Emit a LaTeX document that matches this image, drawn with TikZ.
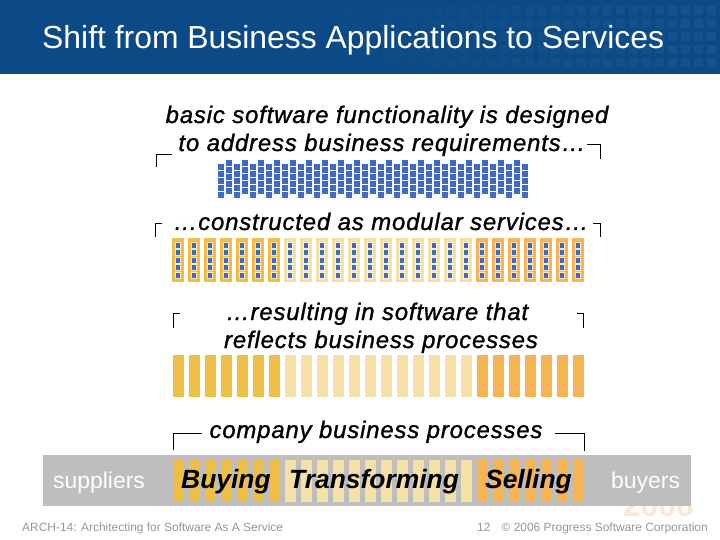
\documentclass[tikz,border=0pt]{standalone}
\usepackage{fontspec}
\setmainfont{Liberation Sans}
\newfontfamily\lblfont[LetterSpace=3.5,FakeBold=1.2]{Liberation Sans}
\usetikzlibrary{positioning}
\definecolor{titleblue}{RGB}{11,74,135}
\definecolor{patblue}{RGB}{45,100,155}
\definecolor{sqblue}{RGB}{59,107,196}
\definecolor{bargold}{RGB}{238,190,70}
\definecolor{barlight}{RGB}{245,224,165}
\definecolor{barorange}{RGB}{247,180,85}
\definecolor{bandgrey}{RGB}{190,190,190}
\definecolor{footgrey}{RGB}{150,150,150}
\definecolor{logopeach}{RGB}{249,232,212}
\tikzset{
  brk/.style={draw=black,line width=0.8pt},
  lbl/.style={font=\fontsize{24}{28}\lblfont\itshape,anchor=base,inner sep=0pt},
  stage/.style={font=\fontsize{26.5}{30}\selectfont\bfseries\itshape,anchor=base west,inner sep=0pt},
  party/.style={font=\fontsize{23}{27}\selectfont,text=white,anchor=base west,inner sep=0pt},
  foot/.style={font=\fontsize{12}{14}\selectfont,text=footgrey,inner sep=0pt}
}
\newcommand{\pickbar}[1]{\ifnum#1<7 \def\bc{bargold}\else\ifnum#1<19 \def\bc{barlight}\else\def\bc{barorange}\fi\fi}
\begin{document}
\begin{tikzpicture}[x=1bp,y=-1bp]
\useasboundingbox (0,0) rectangle (720,540);
% title bar
\fill[titleblue] (0,0) rectangle (720,74);
\foreach \c [evaluate=\c as \op using 0.04+\c*0.01] in {0,...,29}
  \foreach \r in {0,...,4}
    \fill[patblue,opacity=\op] (330+13*\c,6+13*\r) rectangle ++(9,9);
\node[anchor=base west,text=white,inner sep=0pt,font=\fontsize{32}{36}\selectfont] (title) at (42,49) {Shift from Business Applications to Services};

% requirements
\node[lbl] (req1) at (387,123) {basic software functionality is designed};
\node[lbl] (req2) at (382,151) {to address business requirements…};
\draw[brk] (156,167) -- (156,154) -- (172,154);
\draw[brk] (587,144) -- (600,144) -- (600,159);
\foreach \c in {0,...,38}{
  \pgfmathsetmacro\ytop{mod(\c,2)==0 ? 164 : 160.5}
  \foreach \r in {0,...,4}
    \fill[sqblue] (218+8*\c,\ytop+7*\r) rectangle ++(6,6);
}

% services
\node[lbl] (svc) at (381,230) {…constructed as modular services…};
\draw[brk] (155,237) -- (155,223) -- (162,223);
\draw[brk] (593,223) -- (600,223) -- (600,237);
\foreach \i in {0,...,25}{
  \pickbar{\i}
  \fill[\bc] (172+16*\i,238) rectangle ++(11.5,44);
  \foreach \r in {0,...,4}
    \filldraw[fill=sqblue,draw=\bc!35!white,line width=0.6pt] (175+16*\i,242+7.5*\r) rectangle ++(5.5,6);
}

% processes
\node[lbl] (res1) at (377,320) {…resulting in software that};
\node[lbl] (res2) at (381,348) {reflects business processes};
\draw[brk] (173,328) -- (173,313) -- (180,313);
\draw[brk] (577,313) -- (583,313) -- (583,328);
\foreach \i in {0,...,25}{
  \pickbar{\i}
  \fill[\bc] (173+16*\i,355) rectangle ++(11,42);
}

% logo behind band
\node[anchor=base east,inner sep=0pt,text=logopeach,font=\fontsize{32}{36}\selectfont\bfseries] (logo) at (694,516) {2006};

% company band
\node[lbl] (comp) at (376,438) {company business processes};
\draw[brk] (173,450) -- (173,433) -- (202,433);
\draw[brk] (555,433) -- (584,433) -- (584,451);
\fill[bandgrey] (43,455) rectangle (691,506);
\foreach \i in {0,...,25}{
  \pickbar{\i}
  \fill[\bc] (173+16*\i,460) rectangle ++(11,42);
}
\node[party] (sup) at (53,488) {suppliers};
\node[party] (buy) at (611,488) {buyers};
\node[stage] (buying) at (181,488) {Buying};
\node[stage] (transf) at (289,488) {Transforming};
\node[stage] (sell) at (485,488) {Selling};

% footer
\node[foot,anchor=base west] (course) at (22,531) {ARCH-14: Architecting for Software As A Service};
\node[foot,anchor=base west] (page) at (477,531) {12};
\node[foot,anchor=base east] (corp) at (708,531) {© 2006 Progress Software Corporation};
\end{tikzpicture}
\end{document}
